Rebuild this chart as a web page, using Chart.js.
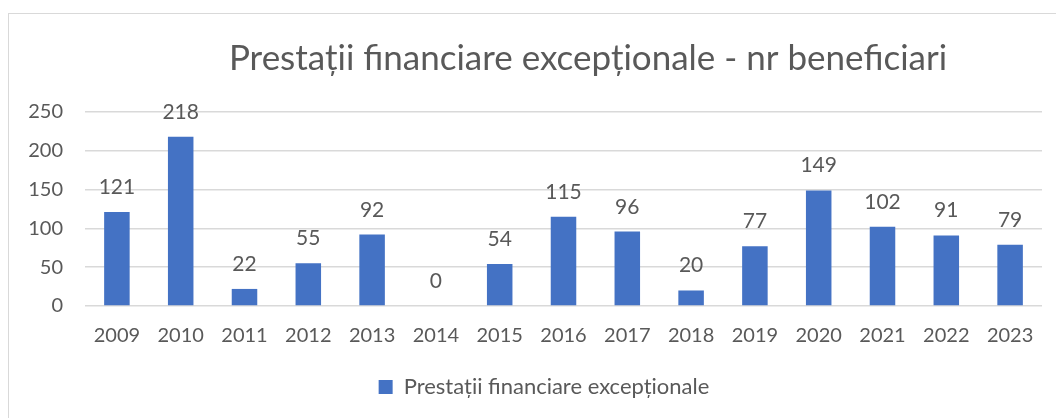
<!DOCTYPE html>
<html lang="ro">
<head>
    <meta charset="UTF-8">
    <title>Prestații financiare excepționale</title>
    <script src="https://cdn.jsdelivr.net/npm/chart.js"></script>
    <style>
        html, body { margin: 0; padding: 0; background: #fff; }
        .wrap { width: 1056px; height: 418px; }
    </style>
</head>
<body>
    <div class="wrap"><canvas id="chart" width="1056" height="418"></canvas></div>
    <script>
        const years = ['2009', '2010', '2011', '2012', '2013', '2014', '2015', '2016',
                       '2017', '2018', '2019', '2020', '2021', '2022', '2023'];
        const beneficiari = [121, 218, 22, 55, 92, 0, 54, 115, 96, 20, 77, 149, 102, 91, 79];
        const seriesName = 'Prestații financiare excepționale';
        const chartTitle = 'Prestații financiare excepționale - nr beneficiari';

        const FONT = 'Lato, "Open Sans", sans-serif';
        const TEXT = '#595959';

        // frame + title drawn by hand so the title can sit off-centre like in Excel
        const frameAndTitle = {
            id: 'frameAndTitle',
            afterLayout(chart) {
                // Excel centres the legend a bit right of the canvas middle
                chart.legend.left += 13;
                chart.legend.right += 13;
            },
            beforeDraw(chart) {
                const ctx = chart.ctx;
                ctx.save();
                ctx.fillStyle = '#fff';
                ctx.fillRect(0, 0, chart.width, chart.height);
                ctx.strokeStyle = '#d9d9d9';
                ctx.lineWidth = 1;
                ctx.strokeRect(8.5, 13.5, 1200, 600);
                ctx.fillStyle = TEXT;
                ctx.font = '35px ' + FONT;
                ctx.textAlign = 'center';
                ctx.textBaseline = 'alphabetic';
                ctx.fillText(chartTitle, 588, 70);
                ctx.restore();
            }
        };

        // value labels above the bars
        const valueLabels = {
            id: 'valueLabels',
            afterDatasetsDraw(chart) {
                const ctx = chart.ctx;
                const meta = chart.getDatasetMeta(0);
                ctx.save();
                ctx.fillStyle = TEXT;
                ctx.font = '21px ' + FONT;
                ctx.textAlign = 'center';
                ctx.textBaseline = 'alphabetic';
                meta.data.forEach((bar, i) => {
                    ctx.fillText(String(beneficiari[i]), bar.x, bar.y - 18);
                });
                ctx.restore();
            }
        };

        new Chart(document.getElementById('chart'), {
            type: 'bar',
            data: {
                labels: years,
                datasets: [{
                    label: seriesName,
                    data: beneficiari,
                    backgroundColor: '#4472c4',
                    categoryPercentage: 1,
                    barPercentage: 0.4
                }]
            },
            options: {
                responsive: false,
                animation: false,
                layout: { padding: { left: 20, right: 14, top: 112, bottom: 10 } },
                plugins: {
                    title: { display: false },
                    tooltip: { enabled: false },
                    legend: {
                        position: 'bottom',
                        labels: {
                            color: TEXT,
                            font: { family: FONT, size: 22 },
                            boxWidth: 14,
                            boxHeight: 14,
                            padding: 10
                        }
                    }
                },
                scales: {
                    x: {
                        grid: { display: false },
                        border: { display: false },
                        ticks: {
                            color: TEXT,
                            font: { family: FONT, size: 20 },
                            padding: 10,
                            maxRotation: 0
                        },
                        afterFit(s) { s.height = 60; }
                    },
                    y: {
                        min: 0,
                        max: 250,
                        grid: { color: '#d9d9d9', lineWidth: 1.5, drawTicks: false },
                        border: { display: false },
                        ticks: {
                            stepSize: 50,
                            color: TEXT,
                            font: { family: FONT, size: 20 },
                            padding: 22
                        },
                        afterFit(s) { s.width = 65; }
                    }
                }
            },
            plugins: [frameAndTitle, valueLabels]
        });
    </script>
</body>
</html>
